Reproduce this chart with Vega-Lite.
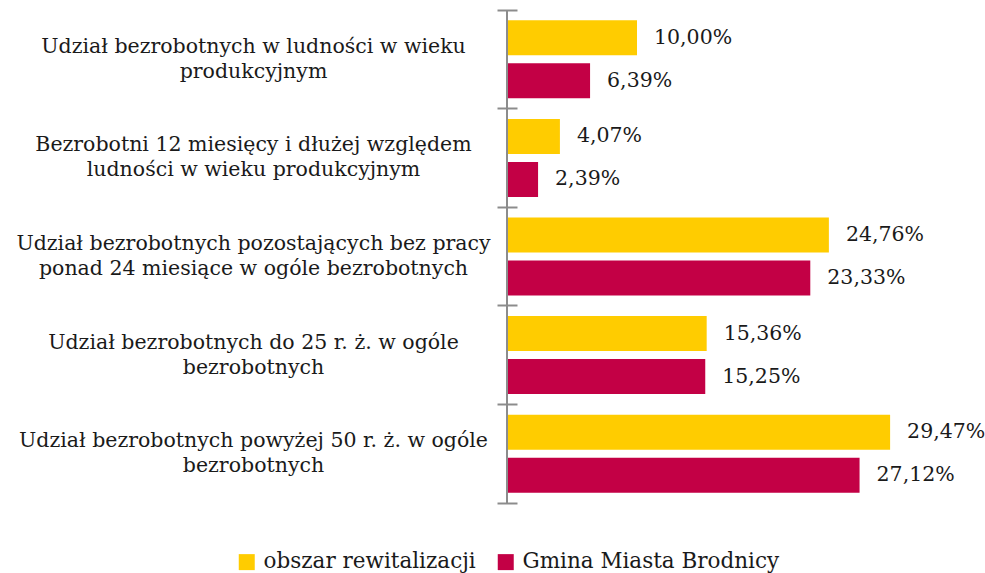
{
  "$schema": "https://vega.github.io/schema/vega-lite/v6.json",
  "width": 468,
  "height": 493,
  "autosize": "none",
  "padding": {"left": 507, "top": 10, "right": 10, "bottom": 70},
  "background": "white",
  "config": {
    "view": {"stroke": null},
    "font": "DejaVu Serif",
    "locale": {
      "number": {"decimal": ",", "thousands": " ", "grouping": [3], "currency": ["", " zł"]}
    }
  },
  "data": {
    "values": [
      {"kategoria": "Udział bezrobotnych w ludności w wieku|produkcyjnym", "seria": "obszar rewitalizacji", "wartosc": 0.1000},
      {"kategoria": "Udział bezrobotnych w ludności w wieku|produkcyjnym", "seria": "Gmina Miasta Brodnicy", "wartosc": 0.0639},
      {"kategoria": "Bezrobotni 12 miesięcy i dłużej względem|ludności w wieku produkcyjnym", "seria": "obszar rewitalizacji", "wartosc": 0.0407},
      {"kategoria": "Bezrobotni 12 miesięcy i dłużej względem|ludności w wieku produkcyjnym", "seria": "Gmina Miasta Brodnicy", "wartosc": 0.0239},
      {"kategoria": "Udział bezrobotnych pozostających bez pracy|ponad 24 miesiące w ogóle bezrobotnych", "seria": "obszar rewitalizacji", "wartosc": 0.2476},
      {"kategoria": "Udział bezrobotnych pozostających bez pracy|ponad 24 miesiące w ogóle bezrobotnych", "seria": "Gmina Miasta Brodnicy", "wartosc": 0.2333},
      {"kategoria": "Udział bezrobotnych do 25 r. ż. w ogóle|bezrobotnych", "seria": "obszar rewitalizacji", "wartosc": 0.1536},
      {"kategoria": "Udział bezrobotnych do 25 r. ż. w ogóle|bezrobotnych", "seria": "Gmina Miasta Brodnicy", "wartosc": 0.1525},
      {"kategoria": "Udział bezrobotnych powyżej 50 r. ż. w ogóle|bezrobotnych", "seria": "obszar rewitalizacji", "wartosc": 0.2947},
      {"kategoria": "Udział bezrobotnych powyżej 50 r. ż. w ogóle|bezrobotnych", "seria": "Gmina Miasta Brodnicy", "wartosc": 0.2712}
    ]
  },
  "encoding": {
    "y": {
      "field": "kategoria",
      "type": "nominal",
      "sort": null,
      "scale": {"paddingInner": 0, "paddingOuter": 0},
      "axis": {
        "title": null,
        "labelExpr": "split(datum.label, '|')",
        "labelAlign": "center",
        "labelBaseline": "middle",
        "labelFont": "DejaVu Serif",
        "labelFontSize": 20.5,
        "labelLineHeight": 25,
        "labelColor": "#1a1a1a",
        "labelPadding": 244,
        "labelOffset": -12.5,
        "labelLimit": 600,
        "domain": false,
        "ticks": true,
        "tickSize": 20,
        "tickWidth": 2,
        "tickColor": "#8c8c8c",
        "bandPosition": 1,
        "tickExtra": true,
        "offset": -10,
        "grid": false
      }
    },
    "yOffset": {
      "field": "seria",
      "type": "nominal",
      "sort": ["obszar rewitalizacji", "Gmina Miasta Brodnicy"],
      "scale": {"paddingInner": 0.186, "paddingOuter": 0.24}
    },
    "x": {
      "field": "wartosc",
      "type": "quantitative",
      "scale": {"domain": [0, 0.36], "nice": false},
      "axis": null
    }
  },
  "layer": [
    {
      "mark": {"type": "bar"},
      "encoding": {
        "color": {
          "field": "seria",
          "type": "nominal",
          "sort": ["obszar rewitalizacji", "Gmina Miasta Brodnicy"],
          "scale": {"domain": ["obszar rewitalizacji", "Gmina Miasta Brodnicy"], "range": ["#FFCC00", "#C30045"]},
          "legend": {
            "title": null,
            "orient": "none",
            "direction": "horizontal",
            "legendX": -271,
            "legendY": 541,
            "symbolType": "square",
            "symbolSize": 256,
            "symbolStrokeWidth": 0,
            "labelFont": "DejaVu Serif",
            "labelFontSize": 21.5,
            "labelColor": "#1a1a1a",
            "labelOffset": 6,
            "columnPadding": 19,
            "labelLimit": 400
          }
        }
      }
    },
    {
      "mark": {"type": "text", "align": "left", "baseline": "middle", "dx": 17, "font": "DejaVu Serif", "fontSize": 20.5, "color": "#1a1a1a"},
      "encoding": {
        "text": {"field": "wartosc", "type": "quantitative", "format": ".2%"}
      }
    },
    {
      "mark": {"type": "rule", "color": "#8c8c8c", "strokeWidth": 2},
      "encoding": {"x": {"datum": 0}, "y": null, "yOffset": null}
    }
  ]
}
